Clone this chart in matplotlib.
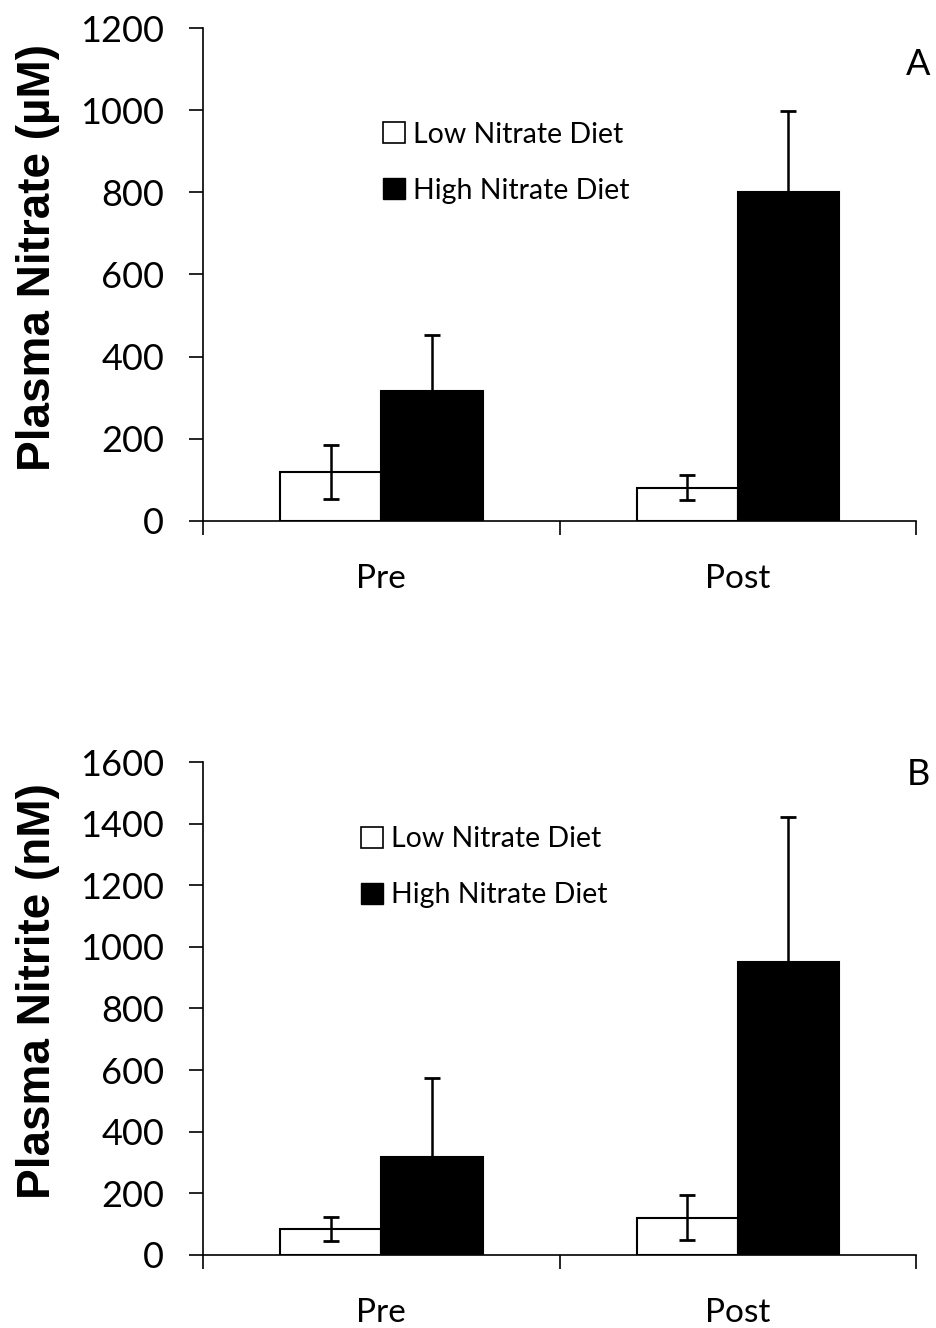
import numpy as np
import matplotlib
matplotlib.use("Agg")
import matplotlib.pyplot as plt
from matplotlib.patches import Patch

plt.rcParams['font.family'] = ['Lato', 'DejaVu Sans']

groups = ['Pre', 'Post']
series = ['Low Nitrate Diet', 'High Nitrate Diet']

# panel A: plasma nitrate (uM)
nitrate_low = [119, 81]
nitrate_low_err = [66, 30]
nitrate_high = [317, 801]
nitrate_high_err = [136, 196]

# panel B: plasma nitrite (nM)
nitrite_low = [84, 120]
nitrite_low_err = [40, 73]
nitrite_high = [318, 951]
nitrite_high_err = [255, 470]

fig = plt.figure(figsize=(9.37, 13.28), dpi=100)
axA = fig.add_axes([0.2167, 0.6077, 0.761, 0.3712])
axB = fig.add_axes([0.2167, 0.0550, 0.761, 0.3712])

w = 0.284
x = np.arange(len(groups)) + 0.5


def draw(ax, low, low_err, high, high_err, ymax, step, ylabel, tag, tag_y, leg_x, leg_y):
    ax.bar(x - w / 2, low, w, color='white', edgecolor='black', linewidth=1.5)
    ax.bar(x + w / 2, high, w, color='black', edgecolor='black', linewidth=1.5)
    ax.errorbar(x - w / 2, low, yerr=low_err, fmt='none', ecolor='black',
                elinewidth=1.8, capsize=6, capthick=2)
    ax.errorbar(x + w / 2, high, yerr=[np.zeros(len(high)), high_err], fmt='none',
                ecolor='black', elinewidth=1.8, capsize=6, capthick=2)
    ax.set_xlim(0, 2)
    ax.set_ylim(0, ymax)
    ax.set_yticks(np.arange(0, ymax + 1, step))
    ax.set_xticks([0, 1, 2])
    ax.set_xticklabels([])
    ax.set_xticks(x, minor=True)
    ax.set_xticklabels(groups, minor=True)
    ax.tick_params(axis='x', which='major', direction='out', length=10, width=1.2)
    ax.tick_params(axis='x', which='minor', length=0, pad=31, labelsize=24)
    ax.tick_params(axis='y', direction='out', length=10, width=1.2, labelsize=26, pad=18)
    for s in ['top', 'right']:
        ax.spines[s].set_visible(False)
    for s in ['left', 'bottom']:
        ax.spines[s].set_linewidth(1.2)
    ax.set_ylabel(ylabel, family=['Liberation Sans', 'DejaVu Sans'],
                  fontweight='bold', fontsize=33)
    ax.yaxis.set_label_coords(-0.201, 0.535)
    ax.text(1.003, tag_y, tag, transform=ax.transAxes, fontsize=26,
            ha='center', va='center')
    handles = [Patch(facecolor='white', edgecolor='black', linewidth=1.2),
               Patch(facecolor='black', edgecolor='black')]
    ax.legend(handles, series, loc='upper left', bbox_to_anchor=(leg_x, leg_y),
              frameon=False, fontsize=20.5, handlelength=0.75, handleheight=0.75,
              handletextpad=0.3, labelspacing=1.05, borderaxespad=0)


draw(axA, nitrate_low, nitrate_low_err, nitrate_high, nitrate_high_err,
     1200, 200, 'Plasma Nitrate (\u00b5M)', 'A', 0.925, 0.237, 0.833)
draw(axB, nitrite_low, nitrite_low_err, nitrite_high, nitrite_high_err,
     1600, 200, 'Plasma Nitrite (nM)', 'B', 0.975, 0.206, 0.893)

fig.savefig('out.png', dpi=100)
